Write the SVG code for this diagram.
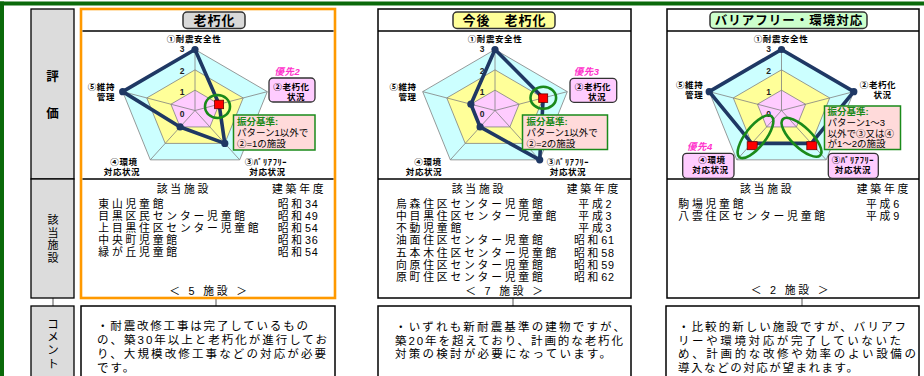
<svg xmlns="http://www.w3.org/2000/svg" xmlns:xlink="http://www.w3.org/1999/xlink" width="924" height="376" viewBox="0 0 924 376">
<style>
text{font-family:"Liberation Sans","Noto Sans CJK JP","Noto Sans",sans-serif;fill:#000}
.lbl{font-size:12.5px;font-weight:bold;text-anchor:middle}
.vl{font-size:11px;text-anchor:middle}
.gray{fill:#dcdcdc;stroke:#000;stroke-width:1.3}
.panel{fill:#fff;stroke:#000;stroke-width:1.5}
.sep{stroke:#000;stroke-width:1.5}
.title{font-size:13px;font-weight:bold;letter-spacing:1px;text-anchor:middle}
.tbox{stroke:#333;stroke-width:1.5}
.ax{font-size:8.5px;font-weight:bold;letter-spacing:0.6px}
.mid{text-anchor:middle}
.end{text-anchor:end}
.num{font-size:8.5px;font-weight:bold;text-anchor:middle;fill:#222}
.l3{fill:#ccffff;stroke:#808080;stroke-width:0.8}
.l2{fill:#ffff99;stroke:#808080;stroke-width:0.8}
.l1{fill:#ffccff;stroke:#808080;stroke-width:0.8}
.spoke{stroke:#808080;stroke-width:0.8;fill:none}
.data{fill:none;stroke:#1f3864;stroke-width:3.6;stroke-linejoin:round}
.dot{fill:#1f3864}
.sq{fill:#ff0000;stroke:#600;stroke-width:0.8}
.ring{fill:none;stroke:#1a8a1a;stroke-width:2.6}
.pbox{fill:#ffccff;stroke:#333;stroke-width:1.3}
.prio{font-size:9.5px;font-weight:bold;font-style:italic;fill:#ff33cc;text-anchor:middle;letter-spacing:0.5px}
.call{fill:#ffdada;stroke:#1a8a1a;stroke-width:1.5}
.ct{font-size:9.5px}
.cg{font-size:9.5px;font-weight:bold;fill:#1a8a1a}
.li{font-size:10.8px;letter-spacing:2.8px}
.dg{letter-spacing:0.8px}
.cm{font-size:11.5px}
.conn{stroke:#555;stroke-width:1}
.lead{stroke:#1a8a1a;stroke-width:1.5}
</style>
<defs>
<g id="grid">
<polygon class="l3" points="0,-61 72.3,-18.85 44.7,49.35 -44.7,49.35 -72.3,-18.85"/>
<polygon class="l2" points="0,-40.67 48.2,-12.57 29.8,32.9 -29.8,32.9 -48.2,-12.57"/>
<polygon class="l1" points="0,-20.33 24.1,-6.28 14.9,16.45 -14.9,16.45 -24.1,-6.28"/>
<path class="spoke" d="M0,0L0,-61M0,0L72.3,-18.85M0,0L44.7,49.35M0,0L-44.7,49.35M0,0L-72.3,-18.85"/>
<text class="num" x="-13" y="-58.5">3</text>
<text class="num" x="-13" y="-37">2</text>
<text class="num" x="-13" y="-16">1</text>
<text class="num" x="-13" y="6">0</text>
</g>
<circle id="dot" class="dot" r="3.6"/>
</defs>

<g id="frame">
<rect x="0" y="1.5" width="924" height="4" fill="#0a6a0a"/>
<rect x="0" y="1.5" width="4" height="375" fill="#0a6a0a"/>
</g>

<g id="connectors">
<line class="conn" x1="53" y1="298" x2="53" y2="306"/>
<line class="conn" x1="216" y1="298" x2="216" y2="306"/>
<line class="conn" x1="513" y1="298" x2="513" y2="306"/>
<line class="conn" x1="802" y1="298" x2="802" y2="306"/>
<line class="lead" x1="225" y1="117" x2="234" y2="130"/>
<line class="lead" x1="536" y1="108" x2="527" y2="115.5"/>
<line class="lead" x1="811" y1="128" x2="825" y2="126"/>
</g>

<g id="label-eval">
<rect class="gray" x="31" y="9" width="43" height="170"/>
<text class="lbl" x="52.5" y="81">評</text>
<text class="lbl" x="52.5" y="117.5">価</text>
</g>
<g id="label-facility">
<rect class="gray" x="31" y="179" width="43" height="119"/>
<text class="vl" x="53" y="224">該</text>
<text class="vl" x="53" y="236.6">当</text>
<text class="vl" x="53" y="249.2">施</text>
<text class="vl" x="53" y="261.8">設</text>
</g>
<g id="label-comment">
<rect class="gray" x="31" y="306" width="43" height="76"/>
<text class="vl" x="53" y="327.6" style="font-size:11.5px">コ</text>
<text class="vl" x="53" y="341" style="font-size:11.5px">メ</text>
<text class="vl" x="53" y="354.3" style="font-size:11.5px">ン</text>
<text class="vl" x="53" y="367.6" style="font-size:11.5px">ト</text>
</g>

<!-- Panel 1 -->
<g id="panel-aging">
<rect x="81" y="9" width="254" height="289" fill="#fff" stroke="#ff9900" stroke-width="2.6"/>
<line class="sep" x1="82.5" y1="31" x2="333.5" y2="31"/>
<line class="sep" x1="82.5" y1="179" x2="333.5" y2="179"/>
<rect class="tbox" x="183" y="12" width="62" height="16.5" rx="4" fill="#d9d9d9"/>
<text class="title" x="214.5" y="25">老朽化</text>
<use xlink:href="#grid" x="195" y="110.5"/>
<g transform="translate(195,110.5)">
<polygon class="data" points="0,-61 24.1,-6.28 29.8,32.9 -14.9,16.45 -72.3,-18.85"/>
<use xlink:href="#dot" x="0" y="-61"/>
<use xlink:href="#dot" x="29.8" y="32.9"/>
<use xlink:href="#dot" x="-14.9" y="16.45"/>
<use xlink:href="#dot" x="-72.3" y="-18.85"/>
<rect class="sq" x="19.6" y="-10.3" width="9" height="8.5"/>
</g>
<ellipse class="ring" cx="217.5" cy="106.5" rx="12.5" ry="11.5"/>
<text class="ax mid" x="194" y="42">①耐震安全性</text>
<text class="ax end" x="115" y="89.7">⑤維持</text>
<text class="ax end" x="115" y="99.7">管理</text>
<text class="ax mid" x="124" y="164.7">④環境</text>
<text class="ax mid" x="122" y="174.7">対応状況</text>
<text class="ax mid" x="266" y="164.7">③ﾊﾞﾘｱﾌﾘｰ</text>
<text class="ax mid" x="267.5" y="174.7">対応状況</text>
<text class="prio" x="287.5" y="75">優先2</text>
<rect class="pbox" x="269" y="78" width="46" height="24" rx="4"/>
<text class="ax mid" x="291.5" y="89.7">②老朽化</text>
<text class="ax mid" x="296" y="99.7">状況</text>
<rect class="call" x="233.5" y="115" width="81.5" height="35"/>
<text class="cg" x="237" y="125">振分基準:</text>
<text class="ct" x="237" y="136">パターン1以外で</text>
<text class="ct" x="237" y="147">②=1の施設</text>
<text class="li" x="156.7" y="192.5">該当施設</text>
<text class="li" x="272" y="192.5">建築年度</text>
<text class="li" x="98.3" y="207.5">東山児童館</text>
<text class="li" x="98.3" y="219.7">目黒区民センター児童館</text>
<text class="li" x="98.3" y="231.9">上目黒住区センター児童館</text>
<text class="li" x="98.3" y="244.1">中央町児童館</text>
<text class="li" x="98.3" y="256.3">緑が丘児童館</text>
<text class="li" x="277.7" y="207.5">昭和<tspan class="dg">34</tspan></text>
<text class="li" x="277.7" y="219.7">昭和<tspan class="dg">49</tspan></text>
<text class="li" x="277.7" y="231.9">昭和<tspan class="dg">54</tspan></text>
<text class="li" x="277.7" y="244.1">昭和<tspan class="dg">36</tspan></text>
<text class="li" x="277.7" y="256.3">昭和<tspan class="dg">54</tspan></text>
<text class="li mid" x="209.5" y="294.5">＜ 5 施設 ＞</text>
</g>
<g id="comment-aging">
<rect class="panel" x="81" y="306" width="254" height="76"/>
<text class="cm" x="97" y="330" textLength="211" lengthAdjust="spacing">・耐震改修工事は完了しているもの</text>
<text class="cm" x="97" y="344" textLength="230" lengthAdjust="spacing">の、築30年以上と老朽化が進行してお</text>
<text class="cm" x="97" y="358" textLength="229" lengthAdjust="spacing">り、大規模改修工事などの対応が必要</text>
<text class="cm" x="97" y="372" style="letter-spacing:2px">です。</text>
</g>

<!-- Panel 2 -->
<g id="panel-future-aging">
<rect class="panel" x="378" y="9" width="253" height="289"/>
<line class="sep" x1="378" y1="31" x2="631" y2="31"/>
<line class="sep" x1="378" y1="179" x2="631" y2="179"/>
<rect class="tbox" x="453" y="12" width="102" height="16.5" rx="4" fill="#ffff99"/>
<text class="title" x="504.5" y="25">今後　老朽化</text>
<use xlink:href="#grid" x="495" y="110.5"/>
<g transform="translate(495,110.5)">
<polygon class="data" points="0,-61 48.2,-12.57 44.7,49.35 -14.9,16.45 -24.1,-6.28"/>
<use xlink:href="#dot" x="0" y="-61"/>
<use xlink:href="#dot" x="44.7" y="49.35"/>
<use xlink:href="#dot" x="-14.9" y="16.45"/>
<use xlink:href="#dot" x="-24.1" y="-6.28"/>
<rect class="sq" x="43.7" y="-16.6" width="9" height="8.5"/>
</g>
<ellipse class="ring" cx="543.3" cy="97.7" rx="12.8" ry="11"/>
<text class="ax mid" x="495" y="42">①耐震安全性</text>
<text class="ax end" x="416.7" y="89.7">⑤維持</text>
<text class="ax end" x="416.7" y="99.7">管理</text>
<text class="ax mid" x="428" y="164.7">④環境</text>
<text class="ax mid" x="424" y="174.7">対応状況</text>
<text class="ax mid" x="568" y="164.7">③ﾊﾞﾘｱﾌﾘｰ</text>
<text class="ax mid" x="568" y="174.7">対応状況</text>
<text class="prio" x="586.7" y="75">優先3</text>
<rect class="pbox" x="570" y="78.3" width="46.7" height="24" rx="4"/>
<text class="ax mid" x="593" y="89.7">②老朽化</text>
<text class="ax mid" x="597" y="99.7">状況</text>
<rect class="call" x="522.5" y="115" width="85" height="34.5"/>
<text class="cg" x="526.5" y="125">振分基準:</text>
<text class="ct" x="526.5" y="136">パターン1以外で</text>
<text class="ct" x="526.5" y="147">②=2の施設</text>
<text class="li" x="451.7" y="192.5">該当施設</text>
<text class="li" x="566.7" y="192.5">建築年度</text>
<text class="li" x="396" y="207.5">烏森住区センター児童館</text>
<text class="li" x="396" y="219.8">中目黒住区センター児童館</text>
<text class="li" x="396" y="232.1">不動児童館</text>
<text class="li" x="396" y="244.4">油面住区センター児童館</text>
<text class="li" x="396" y="256.7">五本木住区センター児童館</text>
<text class="li" x="396" y="269">向原住区センター児童館</text>
<text class="li" x="396" y="281.3">原町住区センター児童館</text>
<text class="li" x="578.3" y="207.5">平成2</text>
<text class="li" x="578.3" y="219.8">平成3</text>
<text class="li" x="578.3" y="232.1">平成3</text>
<text class="li" x="574" y="244.4">昭和<tspan class="dg">61</tspan></text>
<text class="li" x="574" y="256.7">昭和<tspan class="dg">58</tspan></text>
<text class="li" x="574" y="269">昭和<tspan class="dg">59</tspan></text>
<text class="li" x="574" y="281.3">昭和<tspan class="dg">62</tspan></text>
<text class="li mid" x="505.5" y="295">＜ 7 施設 ＞</text>
</g>
<g id="comment-future-aging">
<rect class="panel" x="378" y="306" width="253" height="76"/>
<text class="cm" x="395" y="331" textLength="230" lengthAdjust="spacing">・いずれも新耐震基準の建物ですが、</text>
<text class="cm" x="395" y="344.5" textLength="228" lengthAdjust="spacing">築20年を超えており、計画的な老朽化</text>
<text class="cm" x="395" y="358" textLength="216" lengthAdjust="spacing">対策の検討が必要になっています。</text>
</g>

<!-- Panel 3 -->
<g id="panel-barrierfree">
<rect class="panel" x="667" y="9" width="252" height="289"/>
<line class="sep" x1="667" y1="31" x2="919" y2="31"/>
<line class="sep" x1="667" y1="179" x2="919" y2="179"/>
<rect class="tbox" x="710" y="12" width="157" height="16.5" rx="4" fill="#ccffcc"/>
<text class="title" x="789" y="25" style="font-size:12.5px">バリアフリー・環境対応</text>
<use xlink:href="#grid" x="781.5" y="110.5"/>
<g transform="translate(781.5,110.5)">
<polygon class="data" points="0,-61 72.3,-18.85 29.8,32.9 -29.8,32.9 -72.3,-18.85"/>
<use xlink:href="#dot" x="0" y="-61"/>
<use xlink:href="#dot" x="72.3" y="-18.85"/>
<use xlink:href="#dot" x="-72.3" y="-18.85"/>
<rect class="sq" x="25.3" y="31.2" width="10" height="8"/>
<rect class="sq" x="-34.3" y="31.2" width="10" height="8"/>
</g>
<ellipse class="ring" cx="755.5" cy="136.7" rx="26" ry="10" transform="rotate(-52 755.5 136.7)"/>
<ellipse class="ring" cx="801.5" cy="137.3" rx="26" ry="10" transform="rotate(44 801.5 137.3)"/>
<text class="ax mid" x="781" y="42">①耐震安全性</text>
<text class="ax end" x="703.3" y="88">⑤維持</text>
<text class="ax end" x="703.3" y="98">管理</text>
<text class="ax mid" x="878" y="88">②老朽化</text>
<text class="ax mid" x="882.5" y="98">状況</text>
<text class="prio" x="700" y="150">優先4</text>
<rect class="pbox" x="682.7" y="153.3" width="51.3" height="25" rx="4"/>
<text class="ax mid" x="712" y="162.8">④環境</text>
<text class="ax mid" x="710.5" y="173.3">対応状況</text>
<rect class="pbox" x="828.3" y="153.3" width="50" height="25" rx="4"/>
<text class="ax mid" x="853" y="162.8">③ﾊﾞﾘｱﾌﾘｰ</text>
<text class="ax mid" x="853" y="173.3">対応状況</text>
<rect class="call" x="824.5" y="106" width="76" height="43.5"/>
<text class="cg" x="827.5" y="114.5">振分基準:</text>
<text class="ct" x="827.5" y="125.5">パターン1～3</text>
<text class="ct" x="827.5" y="136.5">以外で③又は④</text>
<text class="ct" x="827.5" y="147">が1～2の施設</text>
<text class="li" x="740" y="192.5">該当施設</text>
<text class="li" x="856.7" y="192.5">建築年度</text>
<text class="li" x="678.3" y="207.5">駒場児童館</text>
<text class="li" x="678.3" y="219.8">八雲住区センター児童館</text>
<text class="li" x="866" y="207.5">平成6</text>
<text class="li" x="866" y="219.8">平成9</text>
<text class="li mid" x="791" y="293.5">＜ 2 施設 ＞</text>
</g>
<g id="comment-barrierfree">
<rect class="panel" x="666" y="306" width="253" height="76"/>
<text class="cm" x="678" y="331" textLength="228" lengthAdjust="spacing">・比較的新しい施設ですが、バリアフ</text>
<text class="cm" x="678" y="344.5" textLength="223" lengthAdjust="spacing">リーや環境対応が完了していないた</text>
<text class="cm" x="678" y="358" textLength="238" lengthAdjust="spacing">め、計画的な改修や効率のよい設備の</text>
<text class="cm" x="678" y="371.5" textLength="180" lengthAdjust="spacing">導入などの対応が望まれます。</text>
</g>
</svg>
